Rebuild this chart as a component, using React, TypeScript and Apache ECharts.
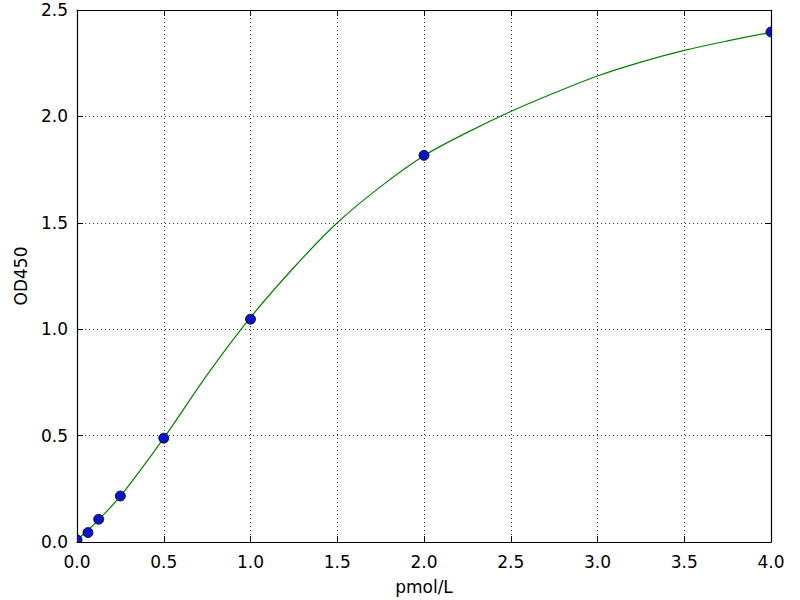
import React, { useEffect, useRef } from "react";
import * as echarts from "echarts";

// standard points (pmol/L vs OD450)
const concentration = [0, 0.0625, 0.125, 0.25, 0.5, 1, 2, 4];
const od450 = [0.01, 0.05, 0.107, 0.216, 0.488, 1.047, 1.817, 2.397];

// fitted curve
const curveX = [
    0, 0.0625, 0.125, 0.25, 0.5, 0.75, 1.0, 1.25, 1.5, 1.75, 2.0, 2.25, 2.5,
    2.75, 3.0, 3.25, 3.5, 3.75, 4.0,
];
const curveY = [
    0.01, 0.055, 0.105, 0.215, 0.488, 0.785, 1.055, 1.29, 1.5, 1.67, 1.815,
    1.925, 2.023, 2.11, 2.19, 2.255, 2.31, 2.355, 2.395,
];

const FONT = "DejaVu Sans";

const App = () => {
    const chartRef = useRef(null);

    useEffect(() => {
        document.body.style.margin = "0";
        if (!chartRef.current) return;
        const chart = echarts.init(chartRef.current, null, { renderer: "svg" });

        const tick = {
            show: true,
            inside: true,
            length: 6,
            lineStyle: { color: "#000", width: 1 },
        };
        const border = { show: true, onZero: false, lineStyle: { color: "#000", width: 1.2 } };
        const grid = {
            show: true,
            lineStyle: { color: "#000", type: [1, 3], width: 1, opacity: 0.8 },
        };
        const label = {
            color: "#000",
            fontFamily: FONT,
            fontSize: 17,
            formatter: (v: number) => v.toFixed(1),
            showMinLabel: true,
            showMaxLabel: true,
        };

        const option = {
            animation: false,
            grid: { left: 77, right: 29, top: 10, bottom: 55, containLabel: false },
            xAxis: [
                {
                    type: "value",
                    min: 0,
                    max: 4,
                    interval: 0.5,
                    position: "bottom",
                    name: "pmol/L",
                    nameLocation: "middle",
                    nameGap: 36,
                    nameTextStyle: { color: "#000", fontFamily: FONT, fontSize: 17 },
                    axisLine: border,
                    axisTick: tick,
                    axisLabel: { ...label, margin: 11 },
                    splitLine: grid,
                },
                {
                    type: "value",
                    min: 0,
                    max: 4,
                    interval: 0.5,
                    position: "top",
                    axisLine: border,
                    axisTick: tick,
                    axisLabel: { show: false },
                    splitLine: { show: false },
                },
            ],
            yAxis: [
                {
                    type: "value",
                    min: 0,
                    max: 2.5,
                    interval: 0.5,
                    position: "left",
                    name: "OD450",
                    nameLocation: "middle",
                    nameGap: 48,
                    nameTextStyle: { color: "#000", fontFamily: FONT, fontSize: 17 },
                    axisLine: border,
                    axisTick: tick,
                    axisLabel: { ...label, margin: 9 },
                    splitLine: grid,
                },
                {
                    type: "value",
                    min: 0,
                    max: 2.5,
                    interval: 0.5,
                    position: "right",
                    axisLine: border,
                    axisTick: tick,
                    axisLabel: { show: false },
                    splitLine: { show: false },
                },
            ],
            series: [
                {
                    type: "line",
                    data: curveX.map((x, i) => [x, curveY[i]]),
                    smooth: 0.35,
                    showSymbol: false,
                    lineStyle: { color: "#008000", width: 1.2 },
                    z: 2,
                },
                {
                    // points clipped at the plot border like the original
                    type: "custom",
                    clip: true,
                    data: concentration.map((x, i) => [x, od450[i]]),
                    encode: { x: 0, y: 1 },
                    renderItem: (params: any, api: any) => {
                        const p = api.coord([api.value(0), api.value(1)]);
                        return {
                            type: "circle",
                            shape: { cx: p[0], cy: p[1], r: 5 },
                            style: { fill: "#0a14c8", stroke: "#000", lineWidth: 0.8 },
                        };
                    },
                    z: 3,
                },
            ],
        };

        chart.setOption(option);
        return () => chart.dispose();
    }, []);

    return <div ref={chartRef} style={{ width: "800px", height: "600px" }} />;
};

export default App;
